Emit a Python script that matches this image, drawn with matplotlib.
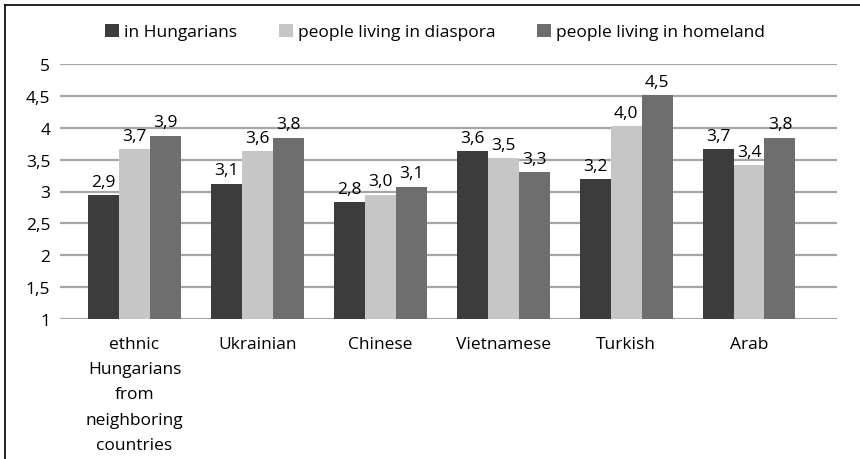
import numpy as np
import matplotlib.pyplot as plt
from matplotlib.lines import Line2D

plt.rcParams['font.family'] = ['Open Sans', 'DejaVu Sans']
plt.rcParams['font.size'] = 12.5

categories = ['ethnic\nHungarians\nfrom\nneighboring\ncountries', 'Ukrainian',
              'Chinese', 'Vietnamese', 'Turkish', 'Arab']
series_names = ['in Hungarians', 'people living in diaspora',
                'people living in homeland']
in_hungarians = [2.94, 3.12, 2.83, 3.63, 3.19, 3.66]
in_diaspora = [3.66, 3.63, 2.95, 3.52, 4.02, 3.41]
in_homeland = [3.87, 3.84, 3.07, 3.30, 4.51, 3.84]
colors = ['#3c3c3c', '#c6c6c6', '#6e6e6e']

fig = plt.figure(figsize=(8.6, 4.6), dpi=100)
ax = fig.add_axes([60 / 860, 140 / 460, 777 / 860, 255 / 460])

x = np.arange(len(categories))
width = 0.252
for i, (vals, name) in enumerate(zip([in_hungarians, in_diaspora, in_homeland],
                                     series_names)):
    pos = x + (i - 1) * width
    ax.bar(pos, np.array(vals) - 1, width, bottom=1, color=colors[i],
           label=name, zorder=3)
    for px, v in zip(pos, vals):
        ax.text(px, v + 0.09, f'{v:.1f}'.replace('.', ','), ha='center',
                va='bottom')

ax.set_xlim(-0.606, 5.716)
ax.set_ylim(1, 5)
yticks = np.arange(1, 5.01, 0.5)
ax.set_yticks(yticks)
ax.set_yticklabels([f'{t:g}'.replace('.', ',') for t in yticks])
ax.yaxis.grid(True, color='#a6a6a6', linewidth=1.6, zorder=0)
ax.set_axisbelow(True)
for s in ax.spines.values():
    s.set_visible(False)
ax.tick_params(axis='y', length=0, pad=7)
ax.tick_params(axis='x', length=0, pad=12)
ax.set_xticks(x)
ax.set_xticklabels(categories, linespacing=1.78, va='top')

fig.legend(loc='center', bbox_to_anchor=(435 / 860, 1 - 33 / 460), ncol=3,
           frameon=False, handlelength=0.8, handleheight=0.8,
           handletextpad=0.3, columnspacing=2.4)

# frame lines (top and left only)
fig.add_artist(Line2D([5 / 860, 1], [1 - 6 / 460, 1 - 6 / 460],
                      transform=fig.transFigure, color='black', linewidth=1.2))
fig.add_artist(Line2D([5 / 860, 5 / 860], [0, 1 - 6 / 460],
                      transform=fig.transFigure, color='black', linewidth=1.2))

fig.savefig('out.png', dpi=100)
